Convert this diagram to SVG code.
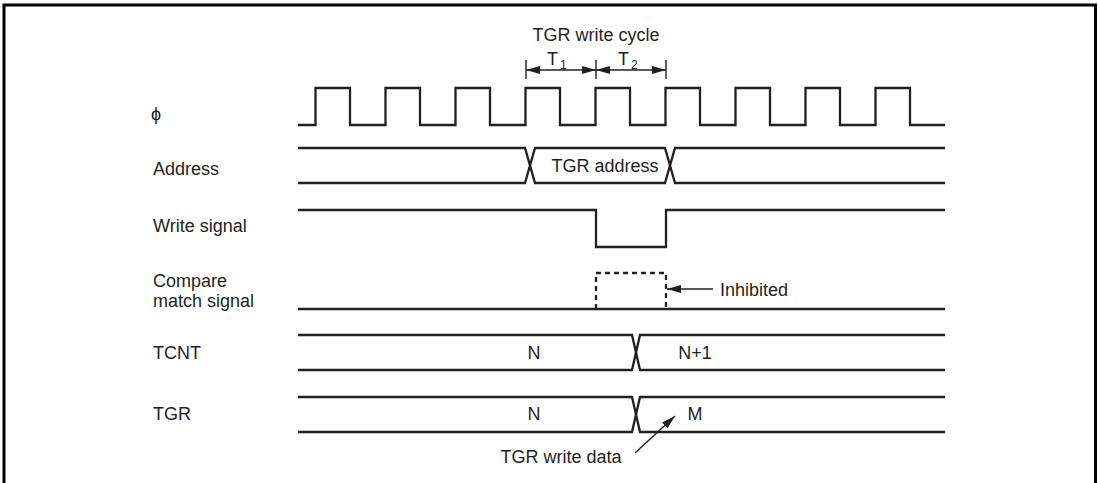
<svg xmlns="http://www.w3.org/2000/svg" width="1100" height="483" viewBox="0 0 1100 483">
<style>
text{font-family:"Liberation Sans",Arial,sans-serif;font-size:18px;fill:#231f20}
.sig{fill:none;stroke:#231f20;stroke-width:2.3;stroke-linejoin:miter}
.thin{fill:none;stroke:#231f20;stroke-width:1.4}
.dash{fill:none;stroke:#231f20;stroke-width:2.3;stroke-dasharray:5 4}
.frame{fill:none;stroke:#000;stroke-width:3}
.mid{text-anchor:middle}
.sub{font-size:12px}
</style>
<defs>
<marker id="ah" viewBox="0 0 14 8" refX="14" refY="4" markerWidth="14" markerHeight="8" markerUnits="userSpaceOnUse" orient="auto">
<path d="M0,0 L14,4 L0,8 Z" fill="#231f20"/>
</marker>
</defs>
<path class="frame" d="M4,490 V5 H1095.5 V490"/>
<g id="labels">
<text x="151" y="120">ϕ</text>
<text x="153" y="175">Address</text>
<text x="153" y="232">Write signal</text>
<text x="153" y="287">Compare</text>
<text x="153" y="307">match signal</text>
<text x="153" y="359">TCNT</text>
<text x="153" y="420">TGR</text>
</g>
<g id="cycle">
<text class="mid" x="596" y="41">TGR write cycle</text>
<text x="547" y="65">T<tspan class="sub" dx="2" dy="4">1</tspan></text>
<text x="618" y="65">T<tspan class="sub" dx="2" dy="4">2</tspan></text>
<path class="thin" d="M526,60 V79 M596,60 V79 M666,60 V79"/>
</g>
<g id="clock">
<path class="sig" d="M298,125 H315.5 V88 H350 V125 H385.5 V88 H420 V125 H455.5 V88 H490 V125 H525.5 V88 H560 V125 H595.5 V88 H630 V125 H665.5 V88 H700 V125 H735.5 V88 H770 V125 H805.5 V88 H840 V125 H875.5 V88 H910 V125 H945"/>
</g>
<g id="address">
<path class="sig" d="M298,148 H525 L535,183 H665 L675,148 H945"/>
<path class="sig" d="M298,183 H525 L535,148 H665 L675,183 H945"/>
<text class="mid" x="605" y="172">TGR address</text>
</g>
<g id="write">
<path class="sig" d="M298,210 H596 V247 H666 V210 H945"/>
</g>
<g id="compare">
<path class="sig" d="M298,309 H945"/>
<path class="dash" d="M596,309 V273 H666 V309"/>
<text x="720" y="296">Inhibited</text>
</g>
<g id="tcnt">
<path class="sig" d="M298,335 H632 L640,370 H945"/>
<path class="sig" d="M298,370 H632 L640,335 H945"/>
<text class="mid" x="534" y="359">N</text>
<text class="mid" x="695" y="359">N+1</text>
</g>
<g id="tgr">
<path class="sig" d="M298,397 H632 L640,432 H945"/>
<path class="sig" d="M298,432 H632 L640,397 H945"/>
<text class="mid" x="534" y="420">N</text>
<text class="mid" x="695" y="420">M</text>
<text class="mid" x="561" y="463">TGR write data</text>
</g>
<g id="connectors">
<line class="thin" x1="561" y1="70" x2="526" y2="70" marker-end="url(#ah)"/>
<line class="thin" x1="561" y1="70" x2="596" y2="70" marker-end="url(#ah)"/>
<line class="thin" x1="631" y1="70" x2="596" y2="70" marker-end="url(#ah)"/>
<line class="thin" x1="631" y1="70" x2="666" y2="70" marker-end="url(#ah)"/>
<line class="thin" x1="713" y1="289" x2="667" y2="289" marker-end="url(#ah)"/>
<line class="thin" x1="635" y1="453" x2="675" y2="416" marker-end="url(#ah)"/>
</g>
</svg>
